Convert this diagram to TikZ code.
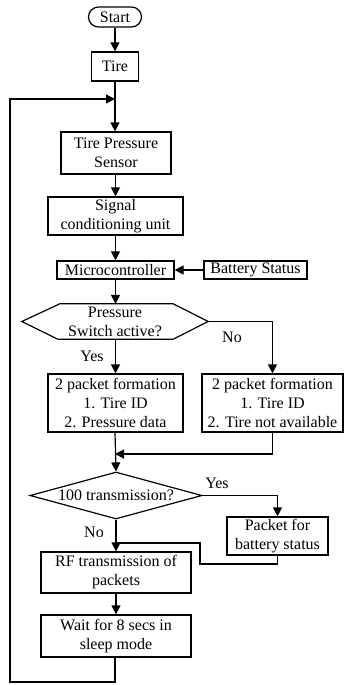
\documentclass[tikz,border=0pt]{standalone}
\usepackage{fontspec}
\setmainfont{Liberation Serif}
\usepackage{tikz}
\usetikzlibrary{arrows.meta,positioning,calc,shapes.geometric}

\begin{document}
\begin{tikzpicture}[x=1pt, y=-1pt, font=\fontsize{16}{19}\selectfont,
  box/.style={rectangle, draw=black, line width=1.2pt, align=center, inner sep=0pt},
  term/.style={rectangle, rounded corners=10pt, draw=black, line width=1.2pt, align=center, inner sep=0pt},
  cond/.style={diamond, draw=black, line width=1.2pt, align=center, inner sep=0pt, aspect=3.66},
  lbl/.style={inner sep=0pt},
  arr/.style={-{Triangle[length=9pt,width=9pt]}, line width=1.2pt, draw=black},
  line/.style={line width=1.2pt, draw=black}]
\useasboundingbox (0,0) rectangle (345,685);
% main column
\node[term, minimum width=53pt, minimum height=20pt] (start) at (115,17) {Start};
\node[box, minimum width=47pt, minimum height=29pt] (tire) at (115,66.5) {Tire};
\node[box, minimum width=110pt, minimum height=42pt] (tps) at (116,153) {Tire Pressure\\Sensor};
\node[box, minimum width=135pt, minimum height=38pt] (scu) at (115.5,216) {Signal\\conditioning unit};
\node[box, minimum width=117pt, minimum height=18pt] (mc) at (115.5,270) {Microcontroller};
\node[box, minimum width=103pt, minimum height=18pt] (bat) at (255.5,270) {Battery Status};
\node[lbl, minimum width=186pt, minimum height=35pt, align=center] (psa) at (115,321.5) {Pressure\\Switch active?};
\draw[line] (psa.west) -- ([xshift=38pt]psa.north west) -- ([xshift=-35pt]psa.north east)
  -- (psa.east) -- ([xshift=-35pt]psa.south east) -- ([xshift=36pt]psa.south west) -- cycle;
\node[box, minimum width=135pt, minimum height=58pt] (pf1) at (115.5,403) {2 packet formation\\1. Tire ID\\2. Pressure data};
\node[box, minimum width=141pt, minimum height=58pt] (pf2) at (272.5,403) {2 packet formation\\1. Tire ID\\2. Tire not available};
\node[cond, minimum width=172pt, minimum height=47pt] (t100) at (116,495.5) {100 transmission?};
\node[box, minimum width=101pt, minimum height=38pt] (pbs) at (277.5,536) {Packet for\\battery status};
\node[box, minimum width=150pt, minimum height=41pt] (rf) at (116,572.5) {RF transmission of\\packets};
\node[box, minimum width=150pt, minimum height=42pt] (wait) at (116,636) {Wait for 8 secs in\\sleep mode};
% junctions
\coordinate (loopin) at (115,99);
\coordinate (lb) at (10,682);
\coordinate (m1) at (115,454);
\coordinate (m2) at (115,543);
\coordinate (c2) at (200,564);
% labels
\node[lbl] (yes1) at (92,356) {Yes};
\node[lbl] (no1) at (232,337) {No};
\node[lbl] (yes2) at (217,483) {Yes};
\node[lbl] (no2) at (94,532) {No};
% connectors
\draw[arr] (start) -- (tire);
\draw[arr] (tire.south) -- (tire.south |- tps.north);
\draw[arr] (tps.south -| scu.north) -- (scu.north);
\draw[arr] (scu) -- (mc);
\draw[arr] (bat) -- (mc);
\draw[arr] (mc.south) -- (mc.south |- psa.north);
\draw[arr] (psa.south -| pf1.north) -- (pf1.north);
\draw[arr] (psa.east) -| (pf2.north);
\draw[arr] (pf1.south -| m1) -- (t100.north);
\draw[arr] (pf2.south) |- (m1);
\draw[arr] (t100.east) -| (pbs.north);
\draw[arr] (t100.south) -- (t100.south |- rf.north);
\draw[line] (pbs.south) |- (c2) |- (m2);
\draw[arr] (rf.south -| wait.north) -- (wait.north);
\draw[arr] (wait.south -| loopin) |- (lb) |- (loopin);
\end{tikzpicture}
\end{document}
